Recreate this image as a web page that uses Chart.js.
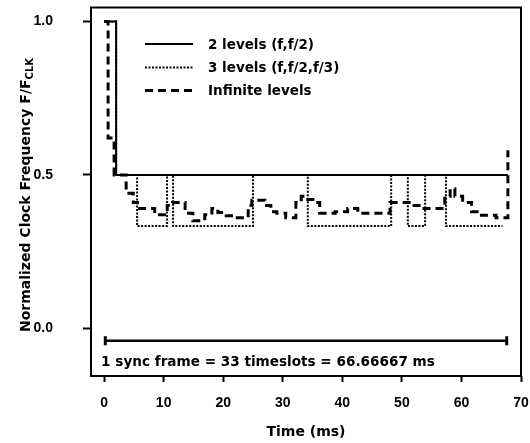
<!DOCTYPE html>
<html><head><meta charset="utf-8">
<script src="https://cdn.jsdelivr.net/npm/chart.js@4/dist/chart.umd.min.js"></script>
<style>html,body{margin:0;padding:0;background:#fff;overflow:hidden}#wrap{width:530px;height:443px;position:relative}canvas{display:block}</style>
</head><body><div id="wrap"><canvas id="c" width="530" height="443"></canvas></div>
<script>
// ---- data ----
const xTicks = [0, 10, 20, 30, 40, 50, 60, 70];
const yTicks = [0.0, 0.5, 1.0];
const yTickLabels = ['0.0', '0.5', '1.0'];
const seriesNames = ['2 levels (f,f/2)', '3 levels (f,f/2,f/3)', 'Infinite levels'];

const twoLevelTime = [0, 2.02, 67.8];
const twoLevelFreq = [1.0, 0.5, 0.5];

const threeLevelTime = [0, 2.02, 5.54, 10.57, 11.58, 25.0, 34.2, 48.2, 51.0, 53.9, 57.4, 66.9];
const threeLevelFreq = [1.0, 0.5, 0.333, 0.5, 0.333, 0.5, 0.333, 0.5, 0.333, 0.5, 0.333, 0.333];

const infLevelTime = [0, 0.67, 1.68, 3.7, 4.9, 5.6, 8.5, 10.6, 11.5, 13.6, 14.9, 16.9, 18.1, 19.1, 20.5, 22.0, 24.2, 24.8, 27.0, 28.0, 29.0, 30.5, 32.2, 33.1, 34.2, 35.4, 36.2, 38.8, 40.9, 42.6, 48.0, 51.7, 53.4, 57.2, 58.1, 58.9, 60.2, 61.7, 63.1, 65.8, 67.8];
const infLevelFreq = [1.0, 0.62, 0.5, 0.44, 0.41, 0.39, 0.37, 0.40, 0.41, 0.375, 0.35, 0.37, 0.39, 0.377, 0.367, 0.36, 0.40, 0.417, 0.40, 0.38, 0.375, 0.36, 0.41, 0.43, 0.42, 0.41, 0.375, 0.38, 0.39, 0.375, 0.41, 0.40, 0.39, 0.43, 0.455, 0.43, 0.41, 0.38, 0.368, 0.36, 0.58];

const syncFrameTime = [0.2, 67.6];
const syncFrameLevel = [-0.041, -0.041];
const syncLabel = '1 sync frame = 33 timeslots = 66.66667 ms';
const syncLabelPos = [-0.5, -0.124];

const xTitle = 'Time (ms)';
const yTitleMain = 'Normalized Clock Frequency F/F';
const yTitleSub = 'CLK';

const pts = (t, v) => t.map((x, i) => ({x: x, y: v[i]}));

const BOLD = '"DejaVu Sans", sans-serif';

const noPad = s => { s.paddingTop = 0; s.paddingBottom = 0; s.paddingLeft = 0; s.paddingRight = 0; };

const decor = {
  id: 'decor',
  afterDraw(chart) {
    const ctx = chart.ctx, a = chart.chartArea;
    const xs = chart.scales.x, ys = chart.scales.y;
    ctx.save();
    // frame
    ctx.strokeStyle = '#000'; ctx.lineWidth = 2; ctx.setLineDash([]);
    ctx.strokeRect(a.left, a.top, a.right - a.left, a.bottom - a.top);
    // legend
    const rows = [44, 67.5, 90.5];
    ctx.font = 'bold 13.5px ' + BOLD; ctx.fillStyle = '#000'; ctx.textBaseline = 'middle'; ctx.textAlign = 'left';
    for (let i = 0; i < 3; i++) {
      const ds = chart.data.datasets[i];
      ctx.beginPath(); ctx.setLineDash(ds.borderDash || []); ctx.lineWidth = ds.borderWidth;
      ctx.moveTo(145, rows[i]); ctx.lineTo(193, rows[i]); ctx.stroke();
      ctx.setLineDash([]);
      ctx.fillText(seriesNames[i], 208, rows[i] + 1);
    }
    // sync label
    ctx.font = 'bold 13.6px ' + BOLD; ctx.textBaseline = 'alphabetic';
    ctx.fillText(syncLabel, xs.getPixelForValue(syncLabelPos[0]), ys.getPixelForValue(syncLabelPos[1]));
    // x title
    ctx.font = 'bold 14px ' + BOLD; ctx.textAlign = 'center';
    ctx.fillText(xTitle, (a.left + a.right) / 2, 436);
    // y title
    ctx.translate(30, 195);
    ctx.rotate(-Math.PI / 2);
    ctx.font = 'bold 14px ' + BOLD;
    const w1 = ctx.measureText(yTitleMain).width;
    ctx.font = 'bold 10px ' + BOLD;
    const w2 = ctx.measureText(yTitleSub).width;
    const start = -(w1 + w2) / 2;
    ctx.textAlign = 'left';
    ctx.font = 'bold 14px ' + BOLD;
    ctx.fillText(yTitleMain, start, 0);
    ctx.font = 'bold 10px ' + BOLD;
    ctx.fillText(yTitleSub, start + w1, 3);
    ctx.restore();
  }
};

new Chart(document.getElementById('c'), {
  type: 'line',
  data: {
    datasets: [
      {label: seriesNames[0], data: pts(twoLevelTime, twoLevelFreq), stepped: 'before', borderColor: '#000', borderWidth: 2, pointRadius: 0, fill: false},
      {label: seriesNames[1], data: pts(threeLevelTime, threeLevelFreq), stepped: 'before', borderColor: '#000', borderWidth: 2, borderDash: [2, 1.5], pointRadius: 0, fill: false},
      {label: seriesNames[2], data: pts(infLevelTime, infLevelFreq), stepped: 'before', borderColor: '#000', borderWidth: 3, borderDash: [8, 5], pointRadius: 0, fill: false},
      {label: 'sync', data: pts(syncFrameTime, syncFrameLevel), borderColor: '#000', borderWidth: 2.5, pointStyle: 'line', rotation: 90, pointRadius: 4.5, pointBorderWidth: 3, pointBorderColor: '#000', fill: false}
    ]
  },
  options: {
    responsive: false, animation: false, devicePixelRatio: 1,
    layout: {padding: {left: 0, right: 9, top: 7, bottom: 0}},
    plugins: {legend: {display: false}, tooltip: {enabled: false}},
    scales: {
      x: {
        type: 'linear', min: -2.2, max: 70,
        afterBuildTicks: s => { s.ticks = xTicks.map(v => ({value: v})); },
        grid: {display: true, drawOnChartArea: false, drawTicks: true, tickLength: 6, tickWidth: 2, tickColor: '#000', color: '#000'},
        border: {display: false},
        ticks: {color: '#000', font: {family: '"Liberation Sans", Arial, sans-serif', weight: 'bold', size: 14}, padding: 13, maxRotation: 0, autoSkip: false},
        afterFit: s => { s.height = 67; noPad(s); }
      },
      y: {
        type: 'linear', min: -0.156, max: 1.046,
        afterBuildTicks: s => { s.ticks = yTicks.map(v => ({value: v})); },
        grid: {display: true, drawOnChartArea: false, drawTicks: true, tickLength: 8, tickWidth: 2, tickColor: '#000', color: '#000'},
        border: {display: false},
        ticks: {color: '#000', font: {family: '"Liberation Sans", Arial, sans-serif', weight: 'bold', size: 14}, padding: 30,
          callback: v => yTickLabels[yTicks.indexOf(v)]},
        afterFit: s => { s.width = 91; noPad(s); }
      }
    }
  },
  plugins: [decor]
});
</script>
</body></html>
